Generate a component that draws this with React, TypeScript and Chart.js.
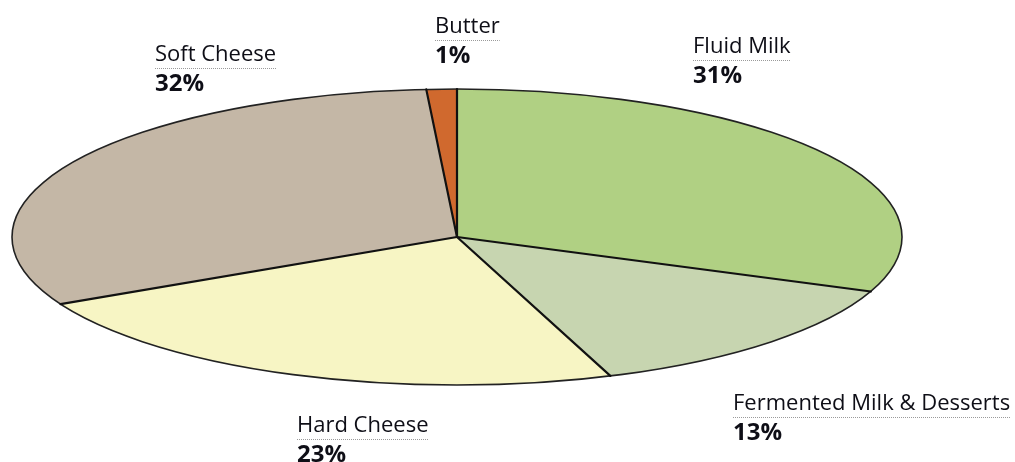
import React, { useEffect, useRef } from "react";
import { Chart, registerables } from "chart.js";

Chart.register(...registerables);

const categories = ["Fluid Milk", "Fermented Milk & Desserts", "Hard Cheese", "Soft Cheese", "Butter"];
const shares = [31.0, 13.4, 23.1, 31.4, 1.1];
const shareLabels = ["31%", "13%", "23%", "32%", "1%"];
const sliceColors = ["#b0d083", "#c7d5b0", "#f7f5c4", "#c4b7a6", "#d0692e"];

// label anchors (left x, name baseline y) — layout only
const labelAnchors: [number, number][] = [
  [693, 53],
  [733, 410],
  [297, 432],
  [155, 61],
  [435, 33],
];

const W = 1015;
const H = 462;
const CX = 457;
const CY = 237;
const RX = 445;
const RY = 148;

const ellipsePlugin = {
  id: "ellipse",
  beforeDatasetsDraw(chart: any) {
    const arc = chart.getDatasetMeta(0).data[0];
    if (!arc) return;
    const ctx = chart.ctx;
    ctx.save();
    ctx.translate(arc.x, arc.y);
    ctx.scale(RX / arc.outerRadius, 1);
    ctx.translate(-arc.x, -arc.y);
  },
  afterDatasetsDraw(chart: any) {
    const meta = chart.getDatasetMeta(0);
    const a0 = meta.data[0];
    if (!a0) return;
    const ctx = chart.ctx;
    ctx.restore();
    const sx = RX / a0.outerRadius;
    ctx.save();
    ctx.lineCap = "round";
    ctx.beginPath();
    ctx.ellipse(a0.x, a0.y, RX, a0.outerRadius, 0, 0, Math.PI * 2);
    ctx.lineWidth = 1.6;
    ctx.strokeStyle = "#222";
    ctx.stroke();
    meta.data.forEach((arc: any) => {
      ctx.beginPath();
      ctx.moveTo(arc.x, arc.y);
      ctx.lineTo(
        arc.x + Math.cos(arc.startAngle) * arc.outerRadius * sx,
        arc.y + Math.sin(arc.startAngle) * arc.outerRadius
      );
      ctx.lineWidth = 2.2;
      ctx.strokeStyle = "#111";
      ctx.stroke();
    });
    ctx.restore();
  },
};

const labelPlugin = {
  id: "sliceLabels",
  afterDraw(chart: any) {
    const ctx = chart.ctx;
    ctx.save();
    ctx.textAlign = "left";
    ctx.textBaseline = "alphabetic";
    chart.data.labels.forEach((name: string, i: number) => {
      const [x, y] = labelAnchors[i];
      ctx.font = '500 22px "Open Sans"';
      ctx.fillStyle = "#0e0e16";
      ctx.fillText(name, x, y);
      const w = ctx.measureText(name).width;
      ctx.beginPath();
      ctx.setLineDash([1, 1]);
      ctx.moveTo(x, y + 7.5);
      ctx.lineTo(x + w, y + 7.5);
      ctx.lineWidth = 1;
      ctx.strokeStyle = "#9a9a9a";
      ctx.stroke();
      ctx.setLineDash([]);
      ctx.font = 'bold 24px "Open Sans"';
      ctx.fillText(shareLabels[i], x, y + 30);
    });
    ctx.restore();
  },
};

export default function App() {
  const ref = useRef<HTMLCanvasElement>(null);
  useEffect(() => {
    document.body.style.margin = "0";
    const canvas = ref.current!;
    const chart = new Chart(canvas, {
      type: "pie",
      data: {
        labels: categories,
        datasets: [
          {
            data: shares,
            backgroundColor: sliceColors,
            borderWidth: 0,
          },
        ],
      },
      options: {
        responsive: false,
        animation: false,
        layout: {
          padding: {
            left: CX - RY,
            right: W - (CX + RY),
            top: CY - RY,
            bottom: H - (CY + RY),
          },
        },
        plugins: {
          legend: { display: false },
          tooltip: { enabled: false },
        },
      },
      plugins: [ellipsePlugin, labelPlugin],
    });
    return () => chart.destroy();
  }, []);
  return (
    <div style={{ position: "absolute", left: 0, top: 0, width: W, height: H, background: "#fff" }}>
      <canvas ref={ref} width={W} height={H} style={{ display: "block" }} />
    </div>
  );
}
